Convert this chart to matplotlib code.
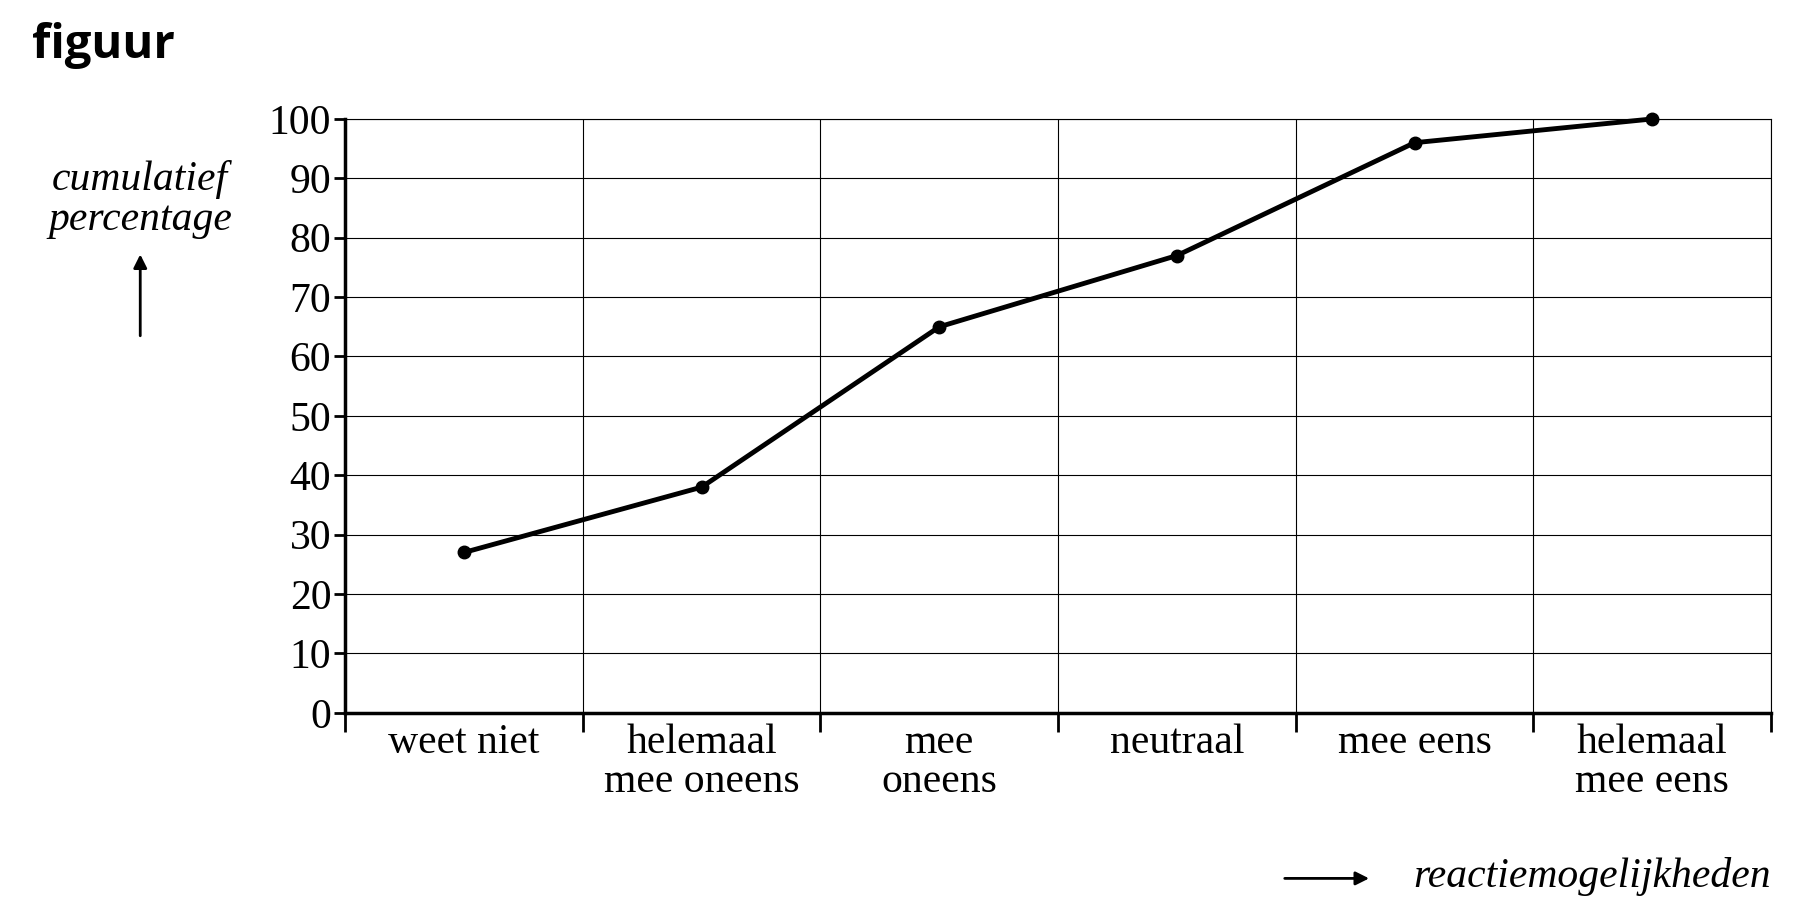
import matplotlib.pyplot as plt
import matplotlib.patches as mpatches
import numpy as np

categories = ["weet niet", "helemaal\nmee oneens", "mee\noneens", "neutraal", "mee eens", "helemaal\nmee eens"]
values = [27, 38, 65, 77, 96, 100]
yticks = list(range(0, 101, 10))

fig = plt.figure(figsize=(17.98, 9.15), dpi=100)
ax = fig.add_axes([0.192, 0.221, 0.793, 0.649])
x = np.arange(len(categories)) + 0.5
ax.plot(x, values, color='black', lw=3.5, marker='o', ms=9, zorder=3, clip_on=False)
ax.set_xlim(0, len(categories))
ax.set_ylim(0, 100)
ax.set_yticks(yticks)
ax.set_yticklabels([str(t) for t in yticks], family='Liberation Serif', fontsize=30)
ax.set_xticks(np.arange(len(categories) + 1))
ax.set_xticklabels([])
ax.set_xticks(x, minor=True)
ax.set_xticklabels(categories, minor=True, family='Liberation Serif', fontsize=30, linespacing=1.0)
ax.tick_params(axis='x', which='minor', length=0, pad=8)
ax.tick_params(axis='x', which='major', length=14, width=2, direction='out')
ax.tick_params(axis='y', length=8, width=2, pad=2)
ax.grid(True, which='major', color='black', lw=0.8)
for s in ['top', 'right']:
    ax.spines[s].set_linewidth(0.8)
for s in ['left', 'bottom']:
    ax.spines[s].set_linewidth(2.5)

fig.text(0.018, 0.95, "figuur", fontsize=34, fontweight='bold', family='Open Sans', va='center')
fig.text(0.078, 0.782, "cumulatief\npercentage", ha='center', va='center', fontsize=30,
         family='Liberation Serif', style='italic', linespacing=1.05)
fig.add_artist(mpatches.FancyArrowPatch((0.078, 0.63), (0.078, 0.725),
               transform=fig.transFigure, arrowstyle='-|>', mutation_scale=20, color='black', lw=2))
fig.add_artist(mpatches.FancyArrowPatch((0.713, 0.04), (0.763, 0.04),
               transform=fig.transFigure, arrowstyle='-|>', mutation_scale=20, color='black', lw=2))
fig.text(0.985, 0.042, "reactiemogelijkheden", ha='right', va='center', fontsize=30,
         family='Liberation Serif', style='italic')
fig.savefig('out.png', dpi=100)
